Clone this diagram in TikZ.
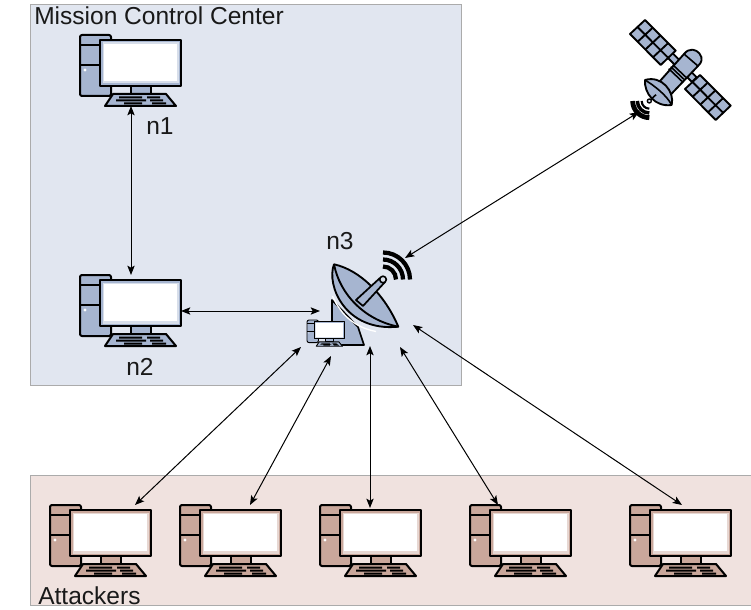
\documentclass[tikz,border=0pt]{standalone}
\usepackage{fontspec}
\setmainfont{Liberation Sans}
\usetikzlibrary{arrows.meta}
\definecolor{mcc}{HTML}{E1E6F0}
\definecolor{atk}{HTML}{F0E2DF}
\definecolor{frame}{HTML}{ABABAB}
\definecolor{pcblue}{HTML}{A6B5D0}
\definecolor{pcred}{HTML}{C9A79B}
\tikzset{
  x=0.75pt,y=-0.75pt,
  zone/.style={draw=frame,line width=0.75pt},
  lbl/.style={font=\fontsize{18.4pt}{20pt}\selectfont,inner sep=0pt,text=black!90,anchor=base west},
  link/.style={draw=black,line width=0.75pt,{Stealth[length=7pt,width=5.5pt,inset=1.5pt]}-{Stealth[length=7pt,width=5.5pt,inset=1.5pt]}},
  ink/.style={draw=black,line join=round},
  pics/pc/.style={code={
    \draw[ink,fill=#1,rounded corners=1.5pt] (0,0) rectangle (31,61);
    \draw[ink] (0,10) -- (31,10) (0,30) -- (31,30);
    \fill[white] (5,35) circle (1.6);
    \draw[ink,fill=#1] (51,51) rectangle (71,59);
    \draw[ink,fill=#1] (33,59) -- (86,59) -- (96,71) -- (25,71) -- cycle;
    \fill[black] (39,61.5) rectangle (62,63.5) (67,61.5) rectangle (80,63.5)
       (36,64.5) rectangle (66,66.5) (70,64.5) rectangle (83,66.5)
       (44,67.5) rectangle (62,69.5) (72,67.5) rectangle (86,69.5);
    \draw[ink,fill=#1] (20,5) rectangle (101,51);
    \fill[#1!45!white] (22.5,7.5) rectangle (98.5,48.5);
    \fill[white] (24,9) rectangle (97,46);
  }}
}
\begin{document}
\begin{tikzpicture}
\useasboundingbox (0,0) rectangle (751,610);
\fill[white] (0,0) rectangle (751,610);
\draw[zone,fill=mcc] (30,5) rectangle (461,385);
\draw[zone,fill=atk] (30,475) rectangle (751,605);
\node[lbl] (mcclabel) at (34,24.5) {Mission Control Center};
\node[lbl] (atklabel) at (38,604.5) {Attackers};
\node[lbl] (n1label) at (146,135) {n1};
\node[lbl] (n2label) at (126,375) {n2};
\node[lbl] (n3label) at (326,249.5) {n3};
% computers
\pic[line width=1.5pt] (n1) at (80,35) {pc=pcblue};
\pic[line width=1.5pt] (n2) at (80,275) {pc=pcblue};
\pic[line width=1.5pt] (a1) at (50,505) {pc=pcred};
\pic[line width=1.5pt] (a2) at (180,505) {pc=pcred};
\pic[line width=1.5pt] (a3) at (320,505) {pc=pcred};
\pic[line width=1.5pt] (a4) at (470,505) {pc=pcred};
\pic[line width=1.5pt] (a5) at (630,505) {pc=pcred};
% ground station n3
\draw[ink,line width=1.3pt,fill=pcblue] (332,300) -- (332,345) -- (364,345) -- (358,327) -- cycle;
\draw[ink,line width=1.4pt,fill=pcblue] (334,264.3)
  .. controls (326,285) and (345,332) .. (398.3,326.7)
  .. controls (385,295) and (360,270) .. cycle;
\draw[white,line width=1pt] (332.5,296) .. controls (342,318) and (358,328) .. (376,331.5);
\draw[ink,line width=1.4pt] (334,264.3) .. controls (340,295) and (365,320) .. (398.3,326.7);
\draw[ink,line width=1.3pt,fill=pcblue] (356,300) -- (380,278) -- (385,282) -- (363,306) -- cycle;
\draw[ink,line width=1.2pt,fill=pcblue!40!white] (383,279.5) circle (3.3);
\draw[black,line width=3.2pt] (383,252.5) arc[start angle=-90,end angle=0,radius=27]
  (383,259.5) arc[start angle=-90,end angle=0,radius=20]
  (383,266.5) arc[start angle=-90,end angle=0,radius=13];
\pic[line width=0.7pt,scale=0.37] (n3pc) at (307,320) {pc=pcblue};
% satellite
\begin{scope}[shift={(620,10)},x=0.25pt,y=-0.25pt]
  \draw[ink,line width=1.4pt,fill=pcblue] (140,140) -- (154,126) -- (230,202) -- (216,216) -- cycle;
  \foreach \o in {0,165}{
    \begin{scope}[shift={(\o,\o)}]
      \draw[ink,line width=1.4pt,fill=pcblue] (75,30) -- (30,72) -- (122,165) -- (167,122) -- cycle;
      \draw[ink,line width=1.4pt] (52.5,51) -- (144.5,143.5)
        (98,53.25) -- (53,95.25) (121,76.5) -- (76,118.5) (144,99.75) -- (99,141.75);
    \end{scope}
  }
  \draw[ink,line width=1.4pt,fill=pcblue] (112,222) -- (192,132)
     .. controls (208,112) and (228,118) .. (238,130)
     .. controls (250,145) and (245,158) .. (234,168)
     -- (150,256) -- cycle;
  \draw[ink,line width=1.2pt] (146,176) -- (186,214) (152,170) -- (192,208) (158,164) -- (198,202) (192,132) -- (234,168);
  \draw[ink,line width=1.4pt,fill=pcblue] (75,210) .. controls (72,250) and (105,292) .. (155,285)
     .. controls (165,245) and (125,195) .. cycle;
  \draw[ink,line width=1.2pt] (75,210) .. controls (100,225) and (140,255) .. (155,285);
  \draw[ink,line width=1.2pt] (88,273) -- (108,254);
  \draw[ink,line width=1pt,fill=pcblue!40!white] (88,273) circle (6);
  \draw[black,line width=3.6pt] (88,323) arc[start angle=90,end angle=180,radius=50];
  \draw[black,line width=2.6pt] (88,309) arc[start angle=90,end angle=180,radius=36];
  \draw[black,line width=1.6pt] (88,296) arc[start angle=90,end angle=180,radius=23];
\end{scope}
% connector ends
\coordinate (n1port) at (131,106);
\coordinate (n2top) at (131,275);
\coordinate (n2port) at (181,311);
\coordinate (n3w) at (320,311);
\coordinate (satport) at (639,112);
\coordinate (n3ne) at (405,258);
\coordinate (n3s1) at (301,347);
\coordinate (n3s2) at (331,356);
\coordinate (n3s3) at (370,346);
\coordinate (n3s4) at (400,347);
\coordinate (n3s5) at (413,325);
\coordinate (a1top) at (135,505);
\coordinate (a2top) at (250,505);
\coordinate (a3top) at (370,508);
\coordinate (a4top) at (498,505);
\coordinate (a5top) at (682,505);
\draw[link] (n1port) -- (n2top);
\draw[link] (n2port) -- (n3w);
\draw[link] (satport) -- (n3ne);
\draw[link] (n3s1) -- (a1top);
\draw[link] (n3s2) -- (a2top);
\draw[link] (n3s3) -- (a3top);
\draw[link] (n3s4) -- (a4top);
\draw[link] (n3s5) -- (a5top);
\end{tikzpicture}
\end{document}
